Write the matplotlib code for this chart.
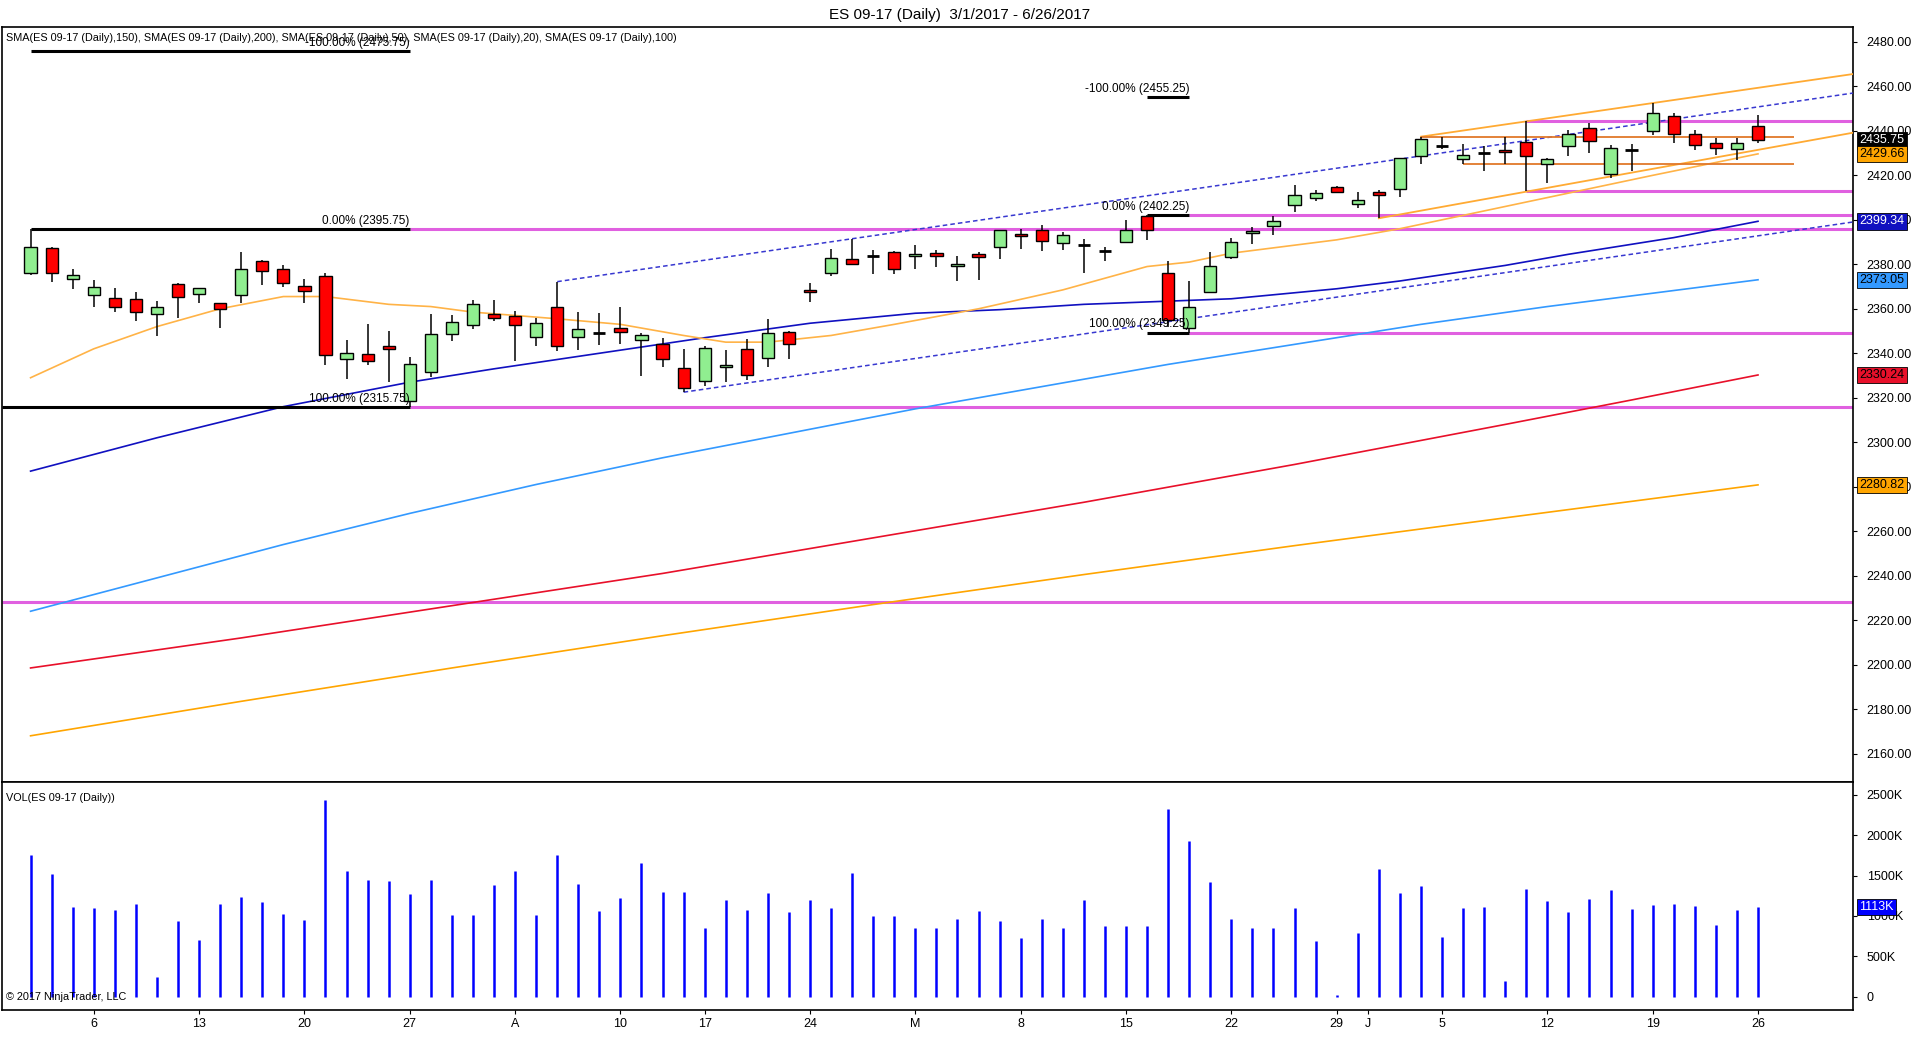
import numpy as np
import pandas as pd
import matplotlib
matplotlib.use("Agg")
import matplotlib.pyplot as plt
from matplotlib.transforms import blended_transform_factory

plt.rcParams['font.family'] = ['Liberation Sans', 'DejaVu Sans']

# trading days 3/1/2017 - 6/26/2017 (Good Friday closed)
dates = pd.bdate_range('2017-03-01', '2017-06-26')
dates = dates[dates != pd.Timestamp('2017-04-14')]

opens = [2376.0, 2387.2, 2373.3, 2366.1, 2364.9, 2364.3, 2357.8, 2371.0, 2366.5, 2362.5,
         2366.1, 2381.3, 2377.8, 2370.1, 2374.6, 2337.3, 2339.6, 2343.1, 2318.5, 2331.5,
         2348.8, 2352.9, 2357.5, 2356.6, 2347.5, 2360.7, 2347.5, 2349.3, 2351.2, 2345.8,
         2344.0, 2333.2, 2327.4, 2333.7, 2341.8, 2337.7, 2349.4, 2368.6, 2376.0, 2382.3,
         2383.9, 2385.4, 2383.6, 2385.0, 2379.1, 2384.5, 2387.6, 2393.6, 2395.4, 2389.4,
         2388.8, 2386.2, 2389.9, 2401.7, 2376.0, 2351.5, 2367.4, 2383.5, 2393.9, 2397.4,
         2406.5, 2409.7, 2414.6, 2407.3, 2412.4, 2413.7, 2428.6, 2433.2, 2427.2, 2430.2,
         2431.3, 2435.0, 2424.9, 2433.3, 2441.5, 2420.5, 2431.5, 2440.0, 2446.5, 2438.8,
         2434.4, 2432.0, 2442.3]
highs = [2395.75, 2387.6, 2377.8, 2373.0, 2369.4, 2367.6, 2363.5, 2371.5, 2369.2, 2362.8,
         2385.5, 2381.9, 2379.5, 2373.3, 2375.9, 2346.0, 2353.0, 2350.0, 2338.3, 2357.5,
         2357.2, 2364.0, 2364.0, 2359.0, 2356.0, 2372.2, 2358.6, 2358.1, 2360.8, 2349.0,
         2346.7, 2341.9, 2343.1, 2341.5, 2346.4, 2355.4, 2350.0, 2371.5, 2386.7, 2391.5,
         2386.4, 2385.9, 2388.5, 2386.3, 2383.6, 2385.4, 2395.3, 2395.7, 2397.8, 2394.7,
         2391.4, 2387.8, 2399.9, 2402.25, 2381.5, 2372.6, 2385.5, 2391.7, 2396.9, 2401.9,
         2415.7, 2413.4, 2415.2, 2412.4, 2413.4, 2427.7, 2437.4, 2437.1, 2434.1, 2433.2,
         2437.1, 2444.6, 2427.7, 2440.4, 2443.5, 2433.5, 2434.0, 2452.5, 2448.0, 2440.4,
         2436.6, 2437.0, 2447.3]
lows = [2375.4, 2372.2, 2368.8, 2361.0, 2358.7, 2354.7, 2347.9, 2356.0, 2362.8, 2351.5,
        2362.8, 2370.9, 2370.0, 2362.8, 2334.9, 2328.6, 2334.8, 2327.0, 2315.75, 2329.5,
        2345.5, 2351.1, 2354.7, 2336.7, 2343.3, 2341.2, 2341.5, 2343.7, 2344.2, 2330.0,
        2334.0, 2322.5, 2325.4, 2327.0, 2328.0, 2334.0, 2337.3, 2362.9, 2374.9, 2379.5,
        2375.8, 2375.5, 2378.1, 2379.0, 2372.7, 2373.1, 2382.4, 2386.9, 2386.0, 2386.5,
        2376.3, 2381.5, 2389.9, 2391.0, 2352.0, 2349.25, 2367.0, 2382.4, 2389.1, 2393.2,
        2403.7, 2408.6, 2412.4, 2405.5, 2400.7, 2410.4, 2425.0, 2431.7, 2425.0, 2422.1,
        2424.9, 2413.0, 2416.7, 2428.7, 2430.0, 2419.0, 2422.0, 2438.2, 2434.4, 2431.6,
        2429.0, 2427.0, 2434.4]
closes = [2387.6, 2376.0, 2375.0, 2369.7, 2360.7, 2358.7, 2360.7, 2365.5, 2369.2, 2359.8,
          2377.8, 2376.9, 2371.8, 2367.9, 2339.1, 2340.0, 2336.7, 2341.8, 2335.0, 2348.5,
          2353.9, 2362.2, 2355.7, 2352.9, 2353.5, 2343.4, 2350.8, 2349.3, 2349.7, 2348.1,
          2337.3, 2324.3, 2342.2, 2334.6, 2330.1, 2349.0, 2344.0, 2367.4, 2382.7, 2380.0,
          2383.9, 2377.8, 2384.5, 2383.6, 2380.0, 2383.2, 2395.3, 2392.6, 2390.6, 2393.2,
          2388.8, 2386.2, 2395.4, 2395.4, 2355.0, 2360.7, 2379.1, 2389.9, 2395.0, 2399.3,
          2411.0, 2411.9, 2412.4, 2408.8, 2411.3, 2427.7, 2436.2, 2433.2, 2429.0, 2430.2,
          2430.4, 2428.9, 2427.4, 2438.4, 2435.5, 2432.5, 2431.5, 2448.1, 2438.8, 2433.8,
          2432.2, 2434.5, 2435.75]
volume_k = [1750, 1520, 1110, 1100, 1080, 1150, 250, 940, 700, 1150,
            1230, 1170, 1030, 950, 2430, 1560, 1440, 1430, 1270, 1440,
            1010, 1010, 1380, 1560, 1010, 1750, 1400, 1060, 1220, 1660,
            1300, 1300, 850, 1200, 1080, 1290, 1050, 1200, 1100, 1530,
            1000, 1000, 850, 850, 960, 1060, 940, 730, 960, 850,
            1200, 870, 870, 880, 2330, 1930, 1420, 960, 850, 850,
            1100, 690, 20, 790, 1580, 1290, 1370, 740, 1100, 1110,
            200, 1330, 1180, 1050, 1210, 1320, 1090, 1130, 1150, 1120,
            890, 1070, 1113]

# moving averages (bar index, value)
sma20_idx = [0, 3, 6, 9, 12, 14, 17, 19, 21, 25, 28, 31, 33, 35, 38, 41, 45, 49, 53, 55, 57, 62, 65, 69, 73, 77, 82]
sma20_val = [2329, 2342, 2352, 2360, 2365.5, 2365.5, 2362, 2361, 2358.5, 2355.5, 2353, 2348, 2345, 2345, 2348,
             2353, 2360, 2368.5, 2379, 2381, 2385, 2391, 2396, 2404, 2412, 2420, 2429.66]
sma50_idx = [0, 6, 12, 18, 22, 27, 32, 37, 42, 46, 50, 57, 62, 65, 70, 73, 78, 82]
sma50_val = [2287, 2302, 2316, 2327, 2333, 2340, 2347, 2353.5, 2358, 2359.6, 2362, 2364.5, 2369, 2372.5,
             2379.5, 2384.5, 2392, 2399.34]
sma100_idx = [0, 6, 12, 18, 24, 30, 36, 42, 48, 54, 60, 66, 72, 77, 82]
sma100_val = [2224, 2239, 2254, 2268, 2281, 2293, 2304, 2315, 2325, 2335, 2344, 2353, 2361, 2367, 2373.05]
sma150_idx = [0, 10, 20, 30, 40, 50, 60, 70, 76, 82]
sma150_val = [2198.5, 2212, 2226.5, 2241, 2257, 2273, 2290, 2308, 2319, 2330.24]
sma200_idx = [0, 10, 20, 30, 40, 50, 60, 70, 82]
sma200_val = [2168, 2183.5, 2198.5, 2213, 2227, 2240.5, 2253.5, 2266, 2280.82]

legend_text = ("SMA(ES 09-17 (Daily),150), SMA(ES 09-17 (Daily),200), SMA(ES 09-17 (Daily),50), "
               "SMA(ES 09-17 (Daily),20), SMA(ES 09-17 (Daily),100)")

# fib retracements: (start bar, end bar, 0%, 100%)
fibs = [(0, 18, 2395.75, 2315.75), (53, 55, 2402.25, 2349.25)]
# horizontal rays (start bar, price); None = whole width
rays = [(18, 2395.75), (18, 2315.75), (55, 2402.25), (55, 2349.25), (71, 2444.6), (71, 2413.0), (None, 2228.0)]
# channel / trend lines: two anchors (bar, price)
blue_upper = [(25, 2372.2), (39, 2391.5)]
blue_lower_start = (31, 2322.5)
orange_upper = [(66, 2437.4), (77, 2452.5)]
orange_lower = [(64, 2400.7), (75, 2419.5)]
box_top = (66, 2437.4)
box_bottom = (68, 2425.0)
box_end = 83.7

XMIN, XMAX = -1.36, 86.5
x = np.arange(len(dates))
o = np.array(opens); h = np.array(highs); l = np.array(lows); c = np.array(closes)

fig = plt.figure(figsize=(19.2, 10.55), dpi=100)
ax = fig.add_axes([0.001, 0.2583, 0.964, 0.7161])
axv = fig.add_axes([0.001, 0.0427, 0.964, 0.2156], sharex=ax)

# candles
ax.vlines(x, l, h, color='black', lw=1.1, zorder=4)
up = c > o
dn = c < o
dj = c == o
ax.bar(x[up], (c - o)[up], bottom=o[up], width=0.58, color='#90EE90', edgecolor='black', lw=1.0, zorder=5)
ax.bar(x[dn], (o - c)[dn], bottom=c[dn], width=0.58, color='#FF0000', edgecolor='black', lw=1.0, zorder=5)
ax.hlines(c[dj], x[dj] - 0.29, x[dj] + 0.29, color='black', lw=2.0, zorder=5)

# moving averages
ax.plot(sma200_idx, sma200_val, color='#FFA500', lw=1.2, zorder=3)
ax.plot(sma150_idx, sma150_val, color='#E8102A', lw=1.2, zorder=3)
ax.plot(sma100_idx, sma100_val, color='#3399FF', lw=1.2, zorder=3)
ax.plot(sma50_idx, sma50_val, color='#1010C0', lw=1.2, zorder=3)
ax.plot(sma20_idx, sma20_val, color='#FFB347', lw=1.2, zorder=3)

# horizontal rays
for start, price in rays:
    x0 = XMIN if start is None else start
    ax.hlines(price, x0, XMAX, color='#E060E0', lw=2.2, zorder=2)

# fib retracements
for i0, i1, p0, p100 in fibs:
    pm = p0 + (p0 - p100)
    for pct, pr in [("0.00%", p0), ("100.00%", p100), ("-100.00%", pm)]:
        left = XMIN if (i0 == 0 and pct == "100.00%") else i0
        ax.hlines(pr, left, i1, color='black', lw=2.2, zorder=6)
        ax.text(i1, pr + 1.0, f"{pct} ({pr:.2f})", ha='right', va='bottom', fontsize=8.5, zorder=7)

def extend(p1, p2):
    slope = (p2[1] - p1[1]) / (p2[0] - p1[0])
    return [p1[0], XMAX], [p1[1], p1[1] + slope * (XMAX - p1[0])], slope

bx, by, bslope = extend(*blue_upper)
ax.plot(bx, by, color='#3838D0', lw=1.1, dashes=(3, 2), zorder=3)
lx = [blue_lower_start[0], XMAX]
ly = [blue_lower_start[1], blue_lower_start[1] + bslope * (XMAX - blue_lower_start[0])]
ax.plot(lx, ly, color='#3838D0', lw=1.1, dashes=(3, 2), zorder=3)

ox, oy, _ = extend(*orange_upper)
ax.plot(ox, oy, color='#FFAA33', lw=1.3, zorder=3)
ox, oy, _ = extend(*orange_lower)
ax.plot(ox, oy, color='#FFAA33', lw=1.3, zorder=3)
ax.hlines(box_top[1], box_top[0], box_end, color='#E0782A', lw=1.3, zorder=3)
ax.hlines(box_bottom[1], box_bottom[0], box_end, color='#E0782A', lw=1.3, zorder=3)

# volume
axv.vlines(x, 0, volume_k, color='#0000FF', lw=1.8)

# axes cosmetics
ax.set_xlim(XMIN, XMAX)
ax.set_ylim(2147, 2486.7)
axv.set_ylim(-163, 2652)
for a in (ax, axv):
    for s in a.spines.values():
        s.set_color('black')
        s.set_linewidth(1.2)
    a.yaxis.tick_right()
    a.tick_params(axis='y', which='both', length=3, pad=7, labelsize=9, colors='black')

ax.set_yticks(np.arange(2160, 2481, 20))
ax.set_yticklabels([f"{v:.2f}" for v in np.arange(2160, 2481, 20)])
ax.tick_params(axis='x', which='both', bottom=False, labelbottom=False)

vt = [0, 500, 1000, 1500, 2000, 2500]
axv.set_yticks(vt)
axv.set_yticklabels(["0" if v == 0 else f"{v}K" for v in vt])

tick_dates = ['2017-03-06', '2017-03-13', '2017-03-20', '2017-03-27', '2017-04-03', '2017-04-10',
              '2017-04-17', '2017-04-24', '2017-05-01', '2017-05-08', '2017-05-15', '2017-05-22',
              '2017-05-29', '2017-06-01', '2017-06-05', '2017-06-12', '2017-06-19', '2017-06-26']
tick_labels = ['6', '13', '20', '27', 'A', '10', '17', '24', 'M', '8', '15', '22', '29', 'J', '5', '12', '19', '26']
pos = [float(dates.get_loc(pd.Timestamp(d))) for d in tick_dates]
pos[13] -= 1.5  # month letter sits before the first June bar
axv.set_xticks(pos)
axv.set_xticklabels(tick_labels)
axv.tick_params(axis='x', length=3, pad=3, labelsize=9)

# value flags on the right axis
tr = blended_transform_factory(ax.transAxes, ax.transData)
flags = [(closes[-1], 'black', 'white'), (sma20_val[-1], '#FFA500', 'black'),
         (sma50_val[-1], '#1010C0', 'white'), (sma100_val[-1], '#3399FF', 'black'),
         (sma150_val[-1], '#E8102A', 'black'), (sma200_val[-1], '#FFA500', 'black')]
for val, bg, fg in flags:
    ax.text(1.0035, val, f"{val:.2f}", transform=tr, ha='left', va='center', fontsize=9, color=fg,
            zorder=10, bbox=dict(boxstyle='square,pad=0.18', fc=bg, ec='black', lw=0.6))
trv = blended_transform_factory(axv.transAxes, axv.transData)
axv.text(1.0035, volume_k[-1], f"{volume_k[-1]}K", transform=trv, ha='left', va='center', fontsize=9,
         color='white', zorder=10, bbox=dict(boxstyle='square,pad=0.18', fc='#0000FF', ec='black', lw=0.6))

# texts
ax.text(0.002, 0.9854, legend_text, transform=ax.transAxes, ha='left', va='center', fontsize=7.8, zorder=8)
axv.text(0.002, 0.93, "VOL(ES 09-17 (Daily))", transform=axv.transAxes, ha='left', va='center', fontsize=7.8)
axv.text(0.002, 0.035, "\u00a9 2017 NinjaTrader, LLC", transform=axv.transAxes, ha='left', va='bottom', fontsize=7.8)
fig.text(0.5, 1 - 14.7 / 1055, "ES 09-17 (Daily)  3/1/2017 - 6/26/2017", ha='center', va='center', fontsize=11)

fig.savefig("out.png", dpi=100)
